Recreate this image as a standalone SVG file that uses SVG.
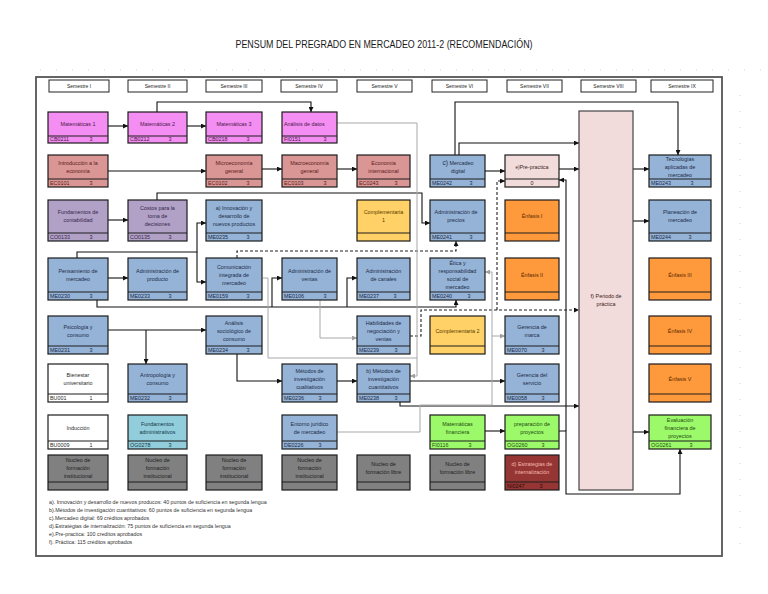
<svg xmlns="http://www.w3.org/2000/svg" width="768" height="594" viewBox="0 0 768 594">
<defs>
<marker id="a" viewBox="0 0 10 10" refX="10" refY="5" markerWidth="5" markerHeight="5" orient="auto" markerUnits="userSpaceOnUse"><path d="M0,0 L10,5 L0,10 z" fill="#111"/></marker>
<marker id="ag" viewBox="0 0 10 10" refX="10" refY="5" markerWidth="5" markerHeight="5" orient="auto" markerUnits="userSpaceOnUse"><path d="M0,0 L10,5 L0,10 z" fill="#a0a0a0"/></marker>
</defs>
<style>
text{font-family:"Liberation Sans",Arial,sans-serif;font-size:5.4px;fill:#2b2b2b}
.node rect{stroke:#1c1c1c;stroke-width:1.2}
.node line{stroke:#1c1c1c;stroke-width:1}
text.t{text-anchor:middle}
.pk rect{fill:#F58EF3}.pk text{fill:#4a1a4a}
.sa rect{fill:#DA9694}.sa text{fill:#5a1c1c}
.lv rect{fill:#B2A1C7}.lv text{fill:#33264a}
.bl rect{fill:#95B3D7}.bl text{fill:#1c2c48}
.cy rect{fill:#92CDDC}.cy text{fill:#123844}
.ye rect{fill:#FFD166}.ye text{fill:#5a3a00}
.or rect{fill:#FF9A3C}.or text{fill:#5a2800}
.gr rect{fill:#9CFA6A}.gr text{fill:#1e4a10}
.dr rect{fill:#963634}.dr text{fill:#f2b8ad}
.gy rect{fill:#808080}.gy text{fill:#1e1e1e}
.wh rect{fill:#ffffff}
.lp rect{fill:#F2DCDB}.lp text{fill:#3a2020}
.pp rect{stroke:#444}
.hd rect{fill:#fff;stroke:#222;stroke-width:1}
.hd text{font-size:5px;text-anchor:middle;fill:#222}
.c{fill:none;stroke:#111;stroke-width:1.1}
.cd{fill:none;stroke:#222;stroke-width:1.1;stroke-dasharray:3 2}
.cg{fill:none;stroke:#a8a8a8;stroke-width:1}
.fn text{font-size:5.3px;fill:#333}
.grid{fill:none;stroke:#d4d4d4;stroke-width:1;stroke-dasharray:1 15}
</style>
<rect width="768" height="594" fill="#fff"/>
<path class="grid" d="M40,70 H762"/>
<path class="grid" d="M740,95 V548"/>
<text x="384" y="48" text-anchor="middle" font-size="10.5" textLength="297" lengthAdjust="spacingAndGlyphs" style="font-size:10.5px;fill:#1a1a1a">PENSUM DEL PREGRADO EN MERCADEO 2011-2 (RECOMENDACIÓN)</text>
<rect x="36" y="77" width="686" height="479" fill="none" stroke="#555" stroke-width="1.8"/>

<g id="headers">
<g id="h1" class="hd"><rect x="49" y="80" width="60" height="12"/><text x="79" y="87.8">Semestre I</text></g>
<g id="h2" class="hd"><rect x="128" y="80" width="59" height="12"/><text x="157.5" y="87.8">Semestre II</text></g>
<g id="h3" class="hd"><rect x="206" y="80" width="56" height="12"/><text x="234" y="87.8">Semestre III</text></g>
<g id="h4" class="hd"><rect x="281" y="80" width="56" height="12"/><text x="309" y="87.8">Semestre IV</text></g>
<g id="h5" class="hd"><rect x="357" y="80" width="55" height="12"/><text x="384.5" y="87.8">Semestre V</text></g>
<g id="h6" class="hd"><rect x="432" y="80" width="55" height="12"/><text x="459.5" y="87.8">Semestre VI</text></g>
<g id="h7" class="hd"><rect x="507" y="80" width="55" height="12"/><text x="534.5" y="87.8">Semestre VII</text></g>
<g id="h8" class="hd"><rect x="581" y="80" width="55" height="12"/><text x="608.5" y="87.8">Semestre VIII</text></g>
<g id="h9" class="hd"><rect x="651" y="80" width="62" height="12"/><text x="682" y="87.8">Semestre IX</text></g>
</g>

<g id="connectors">
<path class="c" d="M108,126 H128" marker-end="url(#a)"/>
<path class="c" d="M187,126 H206" marker-end="url(#a)"/>
<path class="c" d="M157,112 V102 H311 V112" marker-end="url(#a)"/>
<path class="c" d="M108,171 H206" marker-end="url(#a)"/>
<path class="c" d="M262,169 H282" marker-end="url(#a)"/>
<path class="c" d="M337,169 H357" marker-end="url(#a)"/>
<path class="c" d="M108,220 H128" marker-end="url(#a)"/>
<path class="c" d="M157,200 V193 H422 V223 H430" marker-end="url(#a)"/>
<path class="c" d="M77,258 V252 H197 V223 H206" marker-end="url(#a)"/>
<path class="c" d="M197,252 V282 H206" marker-end="url(#a)"/>
<path class="c" d="M108,278 H128" marker-end="url(#a)"/>
<path class="c" d="M97,300 V307 H456 V300" marker-end="url(#a)"/>
<path class="c" d="M272,307 V278 H282" marker-end="url(#a)"/>
<path class="c" d="M347,307 V278 H357" marker-end="url(#a)"/>
<path class="c" d="M108,330 H206" marker-end="url(#a)"/>
<path class="c" d="M146,330 V364" marker-end="url(#a)"/>
<path class="c" d="M237,354 V381 H282" marker-end="url(#a)"/>
<path class="c" d="M337,381 H357" marker-end="url(#a)"/>
<path class="c" d="M410,381 H505" marker-end="url(#a)"/>
<path class="c" d="M400,402 V406 H579" marker-end="url(#a)"/>
<path class="c" d="M485,431 H505" marker-end="url(#a)"/>
<path class="c" d="M559,431 H566 V494 H680 V449" marker-end="url(#a)"/>
<path class="c" d="M566,431 V180 H559" marker-end="url(#a)"/>
<path class="c" d="M559,169 H579" marker-end="url(#a)"/>
<path class="c" d="M485,171 H505" marker-end="url(#a)"/>
<path class="c" d="M459,155 V143 H579" marker-end="url(#a)"/>
<path class="c" d="M455,155 V102 H678 V155" marker-end="url(#a)"/>
<path class="c" d="M633,169 H649" marker-end="url(#a)"/>
<path class="c" d="M633,221 H649" marker-end="url(#a)"/>
<path class="c" d="M633,432 H649" marker-end="url(#a)"/>
<path class="cd" d="M237,258 V251 H456 V241" marker-end="url(#a)"/>
<path class="cd" d="M410,336 H421 V310 H579" marker-end="url(#a)"/>
<path class="cd" d="M497,310 V181 H505" marker-end="url(#a)"/>
<path class="cg" d="M337,123 H417 V376 H410" marker-end="url(#ag)"/>
<path class="cg" d="M263,278 H268 V358 H417"/>
<path class="cg" d="M320,300 V338 H357" marker-end="url(#ag)"/>
<path class="cg" d="M337,432 H420 V405 H492 V272 H485" marker-end="url(#ag)"/>
<path class="cg" d="M492,336 H505" marker-end="url(#ag)"/>
</g>

<!-- Column I -->
<g id="n-mat1" class="node pk"><rect x="48" y="112" width="60" height="31"/><line x1="48" y1="136" x2="108" y2="136"/><text class="t" x="78" y="125.9">Matemáticas 1</text><text x="50" y="141.4">CB0211</text><text class="t" x="91" y="141.4">3</text></g>
<g id="n-intro" class="node sa"><rect x="48" y="155" width="60" height="32"/><line x1="48" y1="179" x2="108" y2="179"/><text class="t" x="78" y="164.9">Introducción a la</text><text class="t" x="78" y="172.9">economía</text><text x="50" y="184.9">EC0101</text><text class="t" x="91" y="184.9">3</text></g>
<g id="n-fund" class="node lv"><rect x="48" y="200" width="60" height="41"/><line x1="48" y1="233" x2="108" y2="233"/><text class="t" x="78" y="214.4">Fundamentos de</text><text class="t" x="78" y="222.4">contabilidad</text><text x="50" y="238.9">CO0133</text><text class="t" x="91" y="238.9">3</text></g>
<g id="n-pens" class="node bl"><rect x="48" y="258" width="60" height="42"/><line x1="48" y1="292" x2="108" y2="292"/><text class="t" x="78" y="272.9">Pensamiento de</text><text class="t" x="78" y="280.9">mercadeo</text><text x="50" y="297.9">ME0230</text><text class="t" x="91" y="297.9">3</text></g>
<g id="n-psic" class="node bl"><rect x="48" y="316" width="60" height="38"/><line x1="48" y1="346" x2="108" y2="346"/><text class="t" x="78" y="328.9">Psicología y</text><text class="t" x="78" y="336.9">consumo</text><text x="50" y="351.9">ME0231</text><text class="t" x="91" y="351.9">3</text></g>
<g id="n-bien" class="node wh"><rect x="48" y="364" width="60" height="38"/><line x1="48" y1="394" x2="108" y2="394"/><text class="t" x="78" y="376.9">Bienestar</text><text class="t" x="78" y="384.9">universitario</text><text x="50" y="399.9">BU001</text><text class="t" x="91" y="399.9">1</text></g>
<g id="n-induc" class="node wh"><rect x="48" y="415" width="60" height="34"/><line x1="48" y1="441" x2="108" y2="441"/><text class="t" x="78" y="429.9">Inducción</text><text x="50" y="446.9">BU0009</text><text class="t" x="91" y="446.9">1</text></g>
<g id="n-nuc1" class="node gy"><rect x="48" y="455" width="60" height="35"/><line x1="48" y1="482" x2="108" y2="482"/><text class="t" x="78" y="462.4">Nucleo de</text><text class="t" x="78" y="470.4">formación</text><text class="t" x="78" y="478.4">institucional</text></g>

<!-- Column II -->
<g id="n-mat2" class="node pk"><rect x="128" y="112" width="59" height="31"/><line x1="128" y1="136" x2="187" y2="136"/><text class="t" x="157.5" y="125.9">Matemáticas 2</text><text x="130" y="141.4">CB0212</text><text class="t" x="170" y="141.4">3</text></g>
<g id="n-costos" class="node lv"><rect x="128" y="200" width="59" height="41"/><line x1="128" y1="233" x2="187" y2="233"/><text class="t" x="157.5" y="210.4">Costos para la</text><text class="t" x="157.5" y="218.4">toma de</text><text class="t" x="157.5" y="226.4">decisiones</text><text x="130" y="238.9">CO0135</text><text class="t" x="170" y="238.9">3</text></g>
<g id="n-admprod" class="node bl"><rect x="128" y="258" width="59" height="42"/><line x1="128" y1="292" x2="187" y2="292"/><text class="t" x="157.5" y="272.9">Administración de</text><text class="t" x="157.5" y="280.9">producto</text><text x="130" y="297.9">ME0233</text><text class="t" x="170" y="297.9">3</text></g>
<g id="n-antrop" class="node bl"><rect x="128" y="364" width="59" height="38"/><line x1="128" y1="394" x2="187" y2="394"/><text class="t" x="157.5" y="376.9">Antropología y</text><text class="t" x="157.5" y="384.9">consumo</text><text x="130" y="399.9">ME0232</text><text class="t" x="170" y="399.9">3</text></g>
<g id="n-fundadm" class="node cy"><rect x="128" y="415" width="59" height="34"/><line x1="128" y1="441" x2="187" y2="441"/><text class="t" x="157.5" y="425.9">Fundamentos</text><text class="t" x="157.5" y="433.9">administrativos</text><text x="130" y="446.9">OG0278</text><text class="t" x="170" y="446.9">3</text></g>
<g id="n-nuc2" class="node gy"><rect x="128" y="455" width="59" height="35"/><line x1="128" y1="482" x2="187" y2="482"/><text class="t" x="157.5" y="462.4">Nucleo de</text><text class="t" x="157.5" y="470.4">formación</text><text class="t" x="157.5" y="478.4">institucional</text></g>

<!-- Column III -->
<g id="n-mat3" class="node pk"><rect x="206" y="112" width="56" height="31"/><line x1="206" y1="136" x2="262" y2="136"/><text class="t" x="234" y="125.9">Matemáticas 3</text><text x="208" y="141.4">CB0218</text><text class="t" x="248" y="141.4">3</text></g>
<g id="n-micro" class="node sa"><rect x="206" y="155" width="56" height="32"/><line x1="206" y1="179" x2="262" y2="179"/><text class="t" x="234" y="164.9">Microeconomía</text><text class="t" x="234" y="172.9">general</text><text x="208" y="184.9">EC0102</text><text class="t" x="248" y="184.9">3</text></g>
<g id="n-innov" class="node bl"><rect x="206" y="200" width="56" height="41"/><line x1="206" y1="233" x2="262" y2="233"/><text class="t" x="234" y="210.4">a) Innovación y</text><text class="t" x="234" y="218.4">desarrollo de</text><text class="t" x="234" y="226.4">nuevos productos</text><text x="208" y="238.9">ME0235</text><text class="t" x="248" y="238.9">3</text></g>
<g id="n-comun" class="node bl"><rect x="206" y="258" width="56" height="42"/><line x1="206" y1="292" x2="262" y2="292"/><text class="t" x="234" y="268.9">Comunicación</text><text class="t" x="234" y="276.9">integrada de</text><text class="t" x="234" y="284.9">mercadeo</text><text x="208" y="297.9">ME0159</text><text class="t" x="248" y="297.9">3</text></g>
<g id="n-analsoc" class="node bl"><rect x="206" y="316" width="56" height="38"/><line x1="206" y1="346" x2="262" y2="346"/><text class="t" x="234" y="324.9">Análisis</text><text class="t" x="234" y="332.9">sociológico de</text><text class="t" x="234" y="340.9">consumo</text><text x="208" y="351.9">ME0234</text><text class="t" x="248" y="351.9">3</text></g>
<g id="n-nuc3" class="node gy"><rect x="206" y="455" width="56" height="35"/><line x1="206" y1="482" x2="262" y2="482"/><text class="t" x="234" y="462.4">Nucleo de</text><text class="t" x="234" y="470.4">formación</text><text class="t" x="234" y="478.4">institucional</text></g>

<!-- Column IV -->
<g id="n-anal" class="node pk"><rect x="282" y="112" width="55" height="31"/><line x1="282" y1="136" x2="337" y2="136"/><text x="284" y="125.9">Análisis de datos</text><text x="284" y="141.4">FI0151</text><text class="t" x="325" y="141.4">3</text></g>
<g id="n-macro" class="node sa"><rect x="282" y="155" width="55" height="32"/><line x1="282" y1="179" x2="337" y2="179"/><text class="t" x="309.5" y="164.9">Macroeconomía</text><text class="t" x="309.5" y="172.9">general</text><text x="284" y="184.9">EC0103</text><text class="t" x="325" y="184.9">3</text></g>
<g id="n-admvent" class="node bl"><rect x="282" y="258" width="55" height="42"/><line x1="282" y1="292" x2="337" y2="292"/><text class="t" x="309.5" y="272.9">Administración de</text><text class="t" x="309.5" y="280.9">ventas</text><text x="284" y="297.9">ME0106</text><text class="t" x="325" y="297.9">3</text></g>
<g id="n-metcual" class="node bl"><rect x="282" y="364" width="55" height="38"/><line x1="282" y1="394" x2="337" y2="394"/><text class="t" x="309.5" y="372.9">Métodos de</text><text class="t" x="309.5" y="380.9">investigación</text><text class="t" x="309.5" y="388.9">cualitativos</text><text x="284" y="399.9">ME0236</text><text class="t" x="320" y="399.9">3</text></g>
<g id="n-entorno" class="node bl"><rect x="282" y="415" width="55" height="34"/><line x1="282" y1="441" x2="337" y2="441"/><text class="t" x="309.5" y="425.9">Entorno jurídico</text><text class="t" x="309.5" y="433.9">de mercadeo</text><text x="284" y="446.9">DE0226</text><text class="t" x="320" y="446.9">3</text></g>
<g id="n-nuc4" class="node gy"><rect x="282" y="455" width="55" height="35"/><line x1="282" y1="482" x2="337" y2="482"/><text class="t" x="309.5" y="462.4">Nucleo de</text><text class="t" x="309.5" y="470.4">formación</text><text class="t" x="309.5" y="478.4">institucional</text></g>

<!-- Column V -->
<g id="n-ecoint" class="node sa"><rect x="357" y="155" width="53" height="32"/><line x1="357" y1="179" x2="410" y2="179"/><text class="t" x="383.5" y="164.9">Economía</text><text class="t" x="383.5" y="172.9">internacional</text><text x="359" y="184.9">EC0243</text><text class="t" x="396" y="184.9">3</text></g>
<g id="n-comp1" class="node ye"><rect x="357" y="200" width="53" height="41"/><line x1="357" y1="233" x2="410" y2="233"/><text class="t" x="383.5" y="214.4">Complementaria</text><text class="t" x="383.5" y="222.4">1</text></g>
<g id="n-admcan" class="node bl"><rect x="357" y="258" width="53" height="42"/><line x1="357" y1="292" x2="410" y2="292"/><text class="t" x="383.5" y="272.9">Administración</text><text class="t" x="383.5" y="280.9">de canales</text><text x="359" y="297.9">ME0237</text><text class="t" x="395" y="297.9">3</text></g>
<g id="n-habil" class="node bl"><rect x="357" y="316" width="53" height="38"/><line x1="357" y1="346" x2="410" y2="346"/><text class="t" x="383.5" y="324.9">Habilidades de</text><text class="t" x="383.5" y="332.9">negociación y</text><text class="t" x="383.5" y="340.9">ventas</text><text x="359" y="351.9">ME0239</text><text class="t" x="396" y="351.9">3</text></g>
<g id="n-metcuan" class="node bl"><rect x="357" y="364" width="53" height="38"/><line x1="357" y1="394" x2="410" y2="394"/><text class="t" x="383.5" y="372.9">b) Métodos de</text><text class="t" x="383.5" y="380.9">investigación</text><text class="t" x="383.5" y="388.9">cuantitativos</text><text x="359" y="399.9">ME0238</text><text class="t" x="396" y="399.9">3</text></g>
<g id="n-nuc5" class="node gy"><rect x="357" y="455" width="53" height="35"/><line x1="357" y1="482" x2="410" y2="482"/><text class="t" x="383.5" y="466.4">Nucleo de</text><text class="t" x="383.5" y="474.4">formación libre</text></g>

<!-- Column VI -->
<g id="n-merdig" class="node bl"><rect x="430" y="155" width="55" height="32"/><line x1="430" y1="179" x2="485" y2="179"/><text class="t" x="458" y="164.9"><tspan style="font-size:6.5px">c)</tspan> Mercadeo</text><text class="t" x="458" y="172.9">digital</text><text x="432" y="184.9">ME0242</text><text class="t" x="471" y="184.9">3</text></g>
<g id="n-admprec" class="node bl"><rect x="430" y="200" width="55" height="41"/><line x1="430" y1="233" x2="485" y2="233"/><text class="t" x="456" y="214.4">Administración de</text><text class="t" x="456" y="222.4">precios</text><text x="432" y="238.9">ME0241</text><text class="t" x="471" y="238.9">3</text></g>
<g id="n-etica" class="node bl"><rect x="430" y="258" width="55" height="42"/><line x1="430" y1="292" x2="485" y2="292"/><text class="t" x="457.5" y="264.9">Ética y</text><text class="t" x="457.5" y="272.9">responsabilidad</text><text class="t" x="457.5" y="280.9">social de</text><text class="t" x="457.5" y="288.9">mercadeo</text><text x="432" y="297.9">ME0240</text><text class="t" x="469" y="297.9">3</text></g>
<g id="n-comp2" class="node ye"><rect x="430" y="316" width="55" height="38"/><line x1="430" y1="346" x2="485" y2="346"/><text class="t" x="457.5" y="332.9">Complementaria 2</text></g>
<g id="n-matfin" class="node gr"><rect x="430" y="415" width="55" height="34"/><line x1="430" y1="441" x2="485" y2="441"/><text class="t" x="457.5" y="425.9">Matemáticas</text><text class="t" x="457.5" y="433.9">financiera</text><text x="432" y="446.9">FI0116</text><text class="t" x="470" y="446.9">3</text></g>
<g id="n-nuc6" class="node gy"><rect x="430" y="455" width="55" height="35"/><line x1="430" y1="482" x2="485" y2="482"/><text class="t" x="457.5" y="466.4">Nucleo de</text><text class="t" x="457.5" y="474.4">formación libre</text></g>

<!-- Column VII -->
<g id="n-prepract" class="node lp"><rect x="505" y="155" width="54" height="32"/><line x1="505" y1="179" x2="559" y2="179"/><text class="t" x="532" y="168.9"><tspan style="font-size:4.5px">e)</tspan>Pre-practica</text><text class="t" x="532" y="184.9">0</text></g>
<g id="n-enf1" class="node or"><rect x="505" y="200" width="54" height="41"/><line x1="505" y1="233" x2="559" y2="233"/><text class="t" x="532" y="218.4">Énfasis I</text></g>
<g id="n-enf2" class="node or"><rect x="505" y="258" width="54" height="42"/><line x1="505" y1="292" x2="559" y2="292"/><text class="t" x="532" y="276.9">Énfasis II</text></g>
<g id="n-gmarca" class="node bl"><rect x="505" y="316" width="54" height="38"/><line x1="505" y1="346" x2="559" y2="346"/><text class="t" x="532" y="328.9">Gerencia de</text><text class="t" x="532" y="336.9">marca</text><text x="507" y="351.9">ME0070</text><text class="t" x="543" y="351.9">3</text></g>
<g id="n-gserv" class="node bl"><rect x="505" y="364" width="54" height="38"/><line x1="505" y1="394" x2="559" y2="394"/><text class="t" x="532" y="376.9">Gerencia del</text><text class="t" x="532" y="384.9">servicio</text><text x="507" y="399.9">ME0058</text><text class="t" x="543" y="399.9">3</text></g>
<g id="n-prepro" class="node gr"><rect x="505" y="415" width="54" height="34"/><line x1="505" y1="441" x2="559" y2="441"/><text class="t" x="532" y="425.9">preparación de</text><text class="t" x="532" y="433.9">proyectos</text><text x="507" y="446.9">OG0260</text><text class="t" x="543" y="446.9">3</text></g>
<g id="n-estrat" class="node dr"><rect x="505" y="455" width="54" height="35"/><line x1="505" y1="482" x2="559" y2="482"/><text class="t" x="532" y="466.4">d) Estrategias de</text><text class="t" x="532" y="474.4">internalización</text><text x="507" y="487.9" style="fill:#2a0a0a">NI0247</text><text class="t" x="541" y="487.9" style="fill:#2a0a0a">3</text></g>

<!-- Column VIII -->
<g id="n-periodo" class="node lp pp"><rect x="579" y="111" width="54" height="379"/><text class="t" x="606" y="297.9"><tspan style="font-size:6px">f)</tspan> Periodo de</text><text class="t" x="606" y="305.9">práctica</text></g>

<!-- Column IX -->
<g id="n-tecno" class="node bl"><rect x="649" y="155" width="62" height="32"/><line x1="649" y1="179" x2="711" y2="179"/><text class="t" x="680" y="160.9">Tecnologias</text><text class="t" x="680" y="168.9">aplicadas de</text><text class="t" x="680" y="176.9">mercadeo</text><text x="651" y="184.9">ME0243</text><text class="t" x="692" y="184.9">3</text></g>
<g id="n-plan" class="node bl"><rect x="649" y="200" width="62" height="41"/><line x1="649" y1="233" x2="711" y2="233"/><text class="t" x="680" y="214.4">Planeación de</text><text class="t" x="680" y="222.4">mercadeo</text><text x="651" y="238.9">ME0244</text><text class="t" x="690" y="238.9">3</text></g>
<g id="n-enf3" class="node or"><rect x="649" y="258" width="62" height="42"/><line x1="649" y1="292" x2="711" y2="292"/><text class="t" x="680" y="276.9">Énfasis III</text></g>
<g id="n-enf4" class="node or"><rect x="649" y="316" width="62" height="38"/><line x1="649" y1="346" x2="711" y2="346"/><text class="t" x="680" y="332.9">Énfasis IV</text></g>
<g id="n-enf5" class="node or"><rect x="649" y="364" width="62" height="38"/><line x1="649" y1="394" x2="711" y2="394"/><text class="t" x="680" y="380.9">Énfasis V</text></g>
<g id="n-eval" class="node gr"><rect x="649" y="415" width="62" height="34"/><line x1="649" y1="441" x2="711" y2="441"/><text class="t" x="680" y="421.9">Evaluación</text><text class="t" x="680" y="429.9">financiera de</text><text class="t" x="680" y="437.9">proyectos</text><text x="651" y="446.9">OG0261</text><text class="t" x="691" y="446.9">3</text></g>

<g id="footnotes" class="fn">
<text x="49" y="504">a). Innovación y desarrollo de nuevos producos: 40 puntos de suficiencia en segunda lengua</text>
<text x="49" y="512">b).Métodos de investigación cuantitativos:  60 puntos de suficiencia en segunda lengua</text>
<text x="49" y="520">c).Mercadeo digital: 69 créditos aprobados</text>
<text x="49" y="528">d).Estratégias de internalización: 75 puntos de suficiencia en segunda lengua</text>
<text x="49" y="536">e).Pre-practica: 100 creditos aprobados</text>
<text x="49" y="544">f). Práctica: 115 créditos aprobados</text>
</g>
</svg>
